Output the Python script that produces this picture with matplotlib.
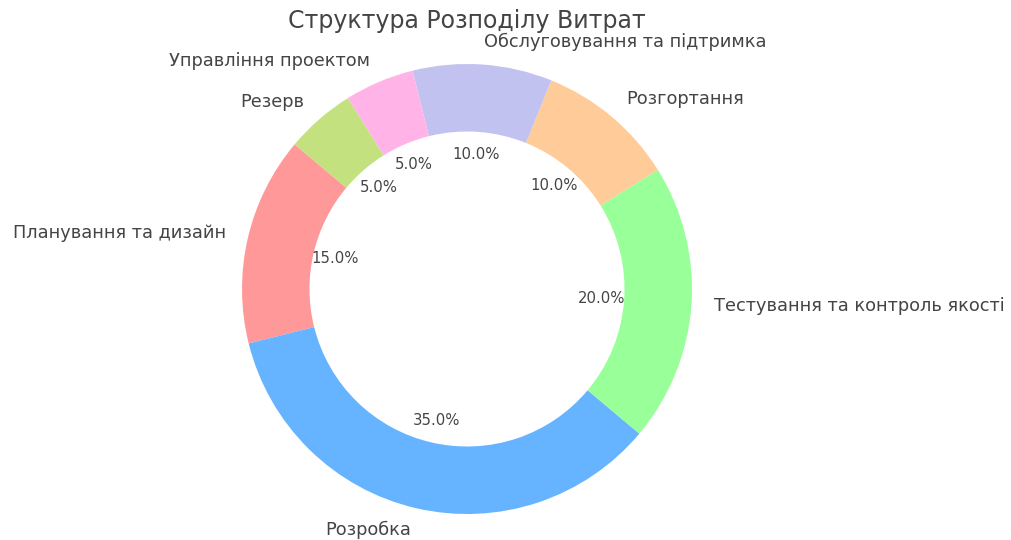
import matplotlib
matplotlib.use("Agg")
import matplotlib.pyplot as plt

categories = ["Планування та дизайн", "Розробка", "Тестування та контроль якості",
              "Розгортання", "Обслуговування та підтримка", "Управління проектом", "Резерв"]
values = [15, 35, 20, 10, 10, 5, 5]
colors = ["#ff9999", "#66b3ff", "#99ff99", "#ffcc99", "#c2c2f0", "#ffb3e6", "#c4e17f"]
title = "Структура Розподілу Витрат"

W, H = 1011, 540
fig = plt.figure(figsize=(W / 100, H / 100), dpi=100)
R = 225.0
cx, cy = 467.0, 540 - 289.0
half = 1.25 * R
ax = fig.add_axes([(cx - half) / W, (cy - half) / H, 2 * half / W, 2 * half / H])
wedges, texts, autotexts = ax.pie(values, labels=categories, colors=colors, autopct="%1.1f%%",
                                  startangle=140, wedgeprops=dict(width=0.3),
                                  textprops=dict(color="#444444"))
for t in texts:
    t.set_fontsize(12.8)
for t in autotexts:
    t.set_fontsize(10.7)
ax.set_xlim(-1.25, 1.25)
ax.set_ylim(-1.25, 1.25)
ax.set_aspect("equal")
ax.axis("off")
fig.text(cx / W, 1 - 21 / H, title, ha="center", va="center", fontsize=17, color="#444444")
fig.savefig("out.png", dpi=100)
